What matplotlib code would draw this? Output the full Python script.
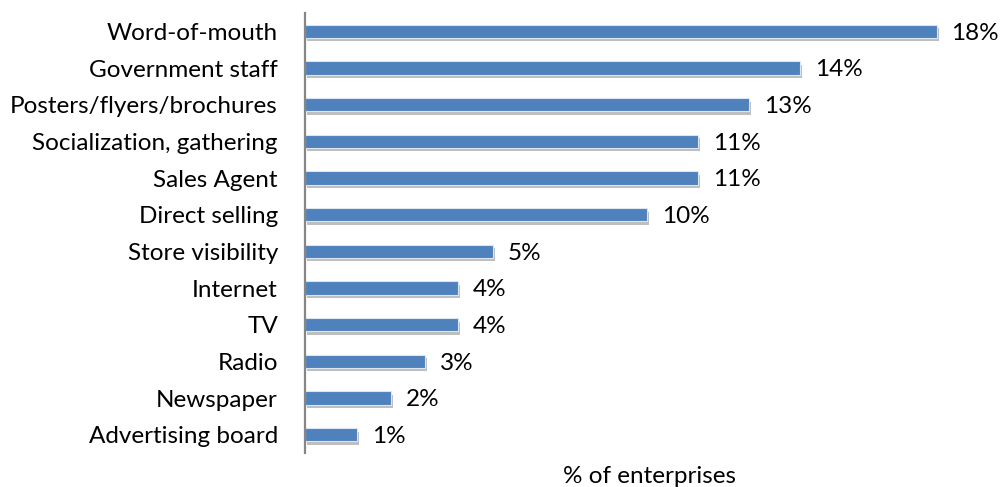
import matplotlib.pyplot as plt
import matplotlib.patheffects as pe

plt.rcParams['font.family'] = ['Lato', 'DejaVu Sans']

channels = ['Word-of-mouth', 'Government staff', 'Posters/flyers/brochures',
            'Socialization, gathering', 'Sales Agent', 'Direct selling',
            'Store visibility', 'Internet', 'TV', 'Radio', 'Newspaper',
            'Advertising board']
share = [18.0, 14.1, 12.65, 11.2, 11.2, 9.74, 5.36, 4.36, 4.36, 3.42, 2.45, 1.48]

fig = plt.figure(figsize=(10.01, 4.87), dpi=100)
ax = fig.add_axes([0.3047, 0.0698, 0.6893, 0.9035])

ypos = list(range(len(channels)))[::-1]
bars = ax.barh(ypos, share, height=0.36, color='#4F81BD',
               edgecolor='#dce6f2', linewidth=0.8)
for b in bars:
    b.set_path_effects([pe.SimplePatchShadow(offset=(1.5, -2.5), shadow_rgbFace='#7f7f7f', alpha=0.5),
                        pe.Normal()])

# percentage labels just past each bar end
for y, v in zip(ypos, share):
    ax.text(v + 0.42, y - 0.05, '{:.0f}%'.format(v), va='center', ha='left', fontsize=17.5)

ax.set_xlim(0, 19.66)
ax.set_ylim(-0.5, len(channels) - 0.5)
ax.set_yticks(ypos)
ax.set_yticklabels(channels, fontsize=17.5)
ax.tick_params(axis='y', length=0, pad=19.5)
ax.set_xticks([])
ax.set_xlabel('% of enterprises', fontsize=17.5, labelpad=9)

for side in ['top', 'right', 'bottom']:
    ax.spines[side].set_visible(False)
ax.spines['left'].set_color('#868686')
ax.spines['left'].set_linewidth(1.6)

fig.savefig('out.png', dpi=100)
